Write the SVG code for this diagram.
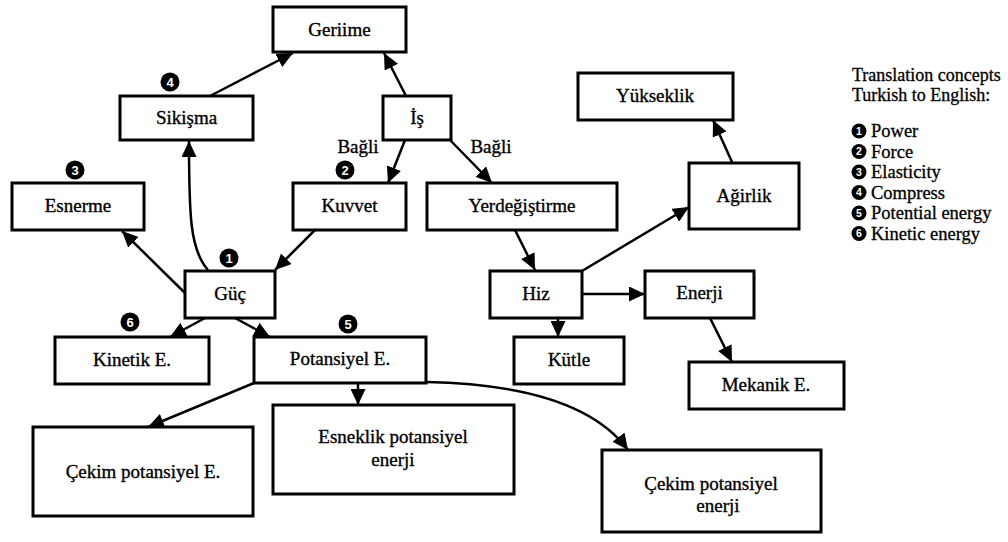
<svg xmlns="http://www.w3.org/2000/svg" width="1008" height="542" viewBox="0 0 1008 542">
<style>
.box{fill:#fff;stroke:#000;stroke-width:3}
.t{font-family:"Liberation Serif","Times New Roman",serif;font-size:19px;fill:#000;stroke:#000;stroke-width:0.35;text-anchor:middle}
.lg{font-family:"Liberation Serif","Times New Roman",serif;font-size:18px;fill:#000;stroke:#000;stroke-width:0.3}
.li{font-family:"Liberation Serif","Times New Roman",serif;font-size:18.5px;fill:#000;stroke:#000;stroke-width:0.3}
.e{fill:none;stroke:#000;stroke-width:2.5}
.nc{fill:#000}
.nt{font-family:"Liberation Sans",Arial,sans-serif;font-size:13px;font-weight:bold;fill:#fff;text-anchor:middle}
.ns{font-family:"Liberation Sans",Arial,sans-serif;font-size:10.5px;font-weight:bold;fill:#fff;text-anchor:middle}
</style>
<defs>
<marker id="ah" markerUnits="userSpaceOnUse" markerWidth="17" markerHeight="15" refX="16" refY="7.5" orient="auto">
<path d="M0,0 L16,7.5 L0,15 z" fill="#000"/>
</marker>
</defs>
<g id="connectors">
<path class="e" d="M210,96 L293,53" marker-end="url(#ah)"/>
<path class="e" d="M406,96 L384,53" marker-end="url(#ah)"/>
<path class="e" d="M405,140 L388,183" marker-end="url(#ah)"/>
<path class="e" d="M450,140 L492,183" marker-end="url(#ah)"/>
<path class="e" d="M208,270 C190,250 189,215 189,141" marker-end="url(#ah)"/>
<path class="e" d="M185,293 L122,231" marker-end="url(#ah)"/>
<path class="e" d="M315,230 L275,270" marker-end="url(#ah)"/>
<path class="e" d="M205,318 L170,337" marker-end="url(#ah)"/>
<path class="e" d="M235,318 L270,337" marker-end="url(#ah)"/>
<path class="e" d="M254,383 L148,427" marker-end="url(#ah)"/>
<path class="e" d="M358,383 L358,405" marker-end="url(#ah)"/>
<path class="e" d="M426,382 Q580,385 628,450" marker-end="url(#ah)"/>
<path class="e" d="M515,230 L535,270" marker-end="url(#ah)"/>
<path class="e" d="M558,318 L558,337" marker-end="url(#ah)"/>
<path class="e" d="M582,294 L645,294" marker-end="url(#ah)"/>
<path class="e" d="M582,271 L689,207" marker-end="url(#ah)"/>
<path class="e" d="M732,162 L713,120" marker-end="url(#ah)"/>
<path class="e" d="M710,318 L732,362" marker-end="url(#ah)"/>
</g>
<g id="labels">
<text class="t" x="358" y="153">Bağli</text>
<text class="t" x="491" y="153">Bağli</text>
</g>
<g id="n-geriime"><rect class="box" x="273" y="7" width="133" height="45"/><text class="t" x="339.5" y="36">Geriime</text></g>
<g id="n-sikisma"><rect class="box" x="120" y="96" width="133" height="44"/><text class="t" x="186.5" y="124">Sikişma</text></g>
<g id="n-is"><rect class="box" x="383" y="96" width="68" height="44"/><text class="t" x="417" y="124">İş</text></g>
<g id="n-esnerme"><rect class="box" x="12" y="183" width="132" height="47"/><text class="t" x="78" y="212">Esnerme</text></g>
<g id="n-kuvvet"><rect class="box" x="293" y="183" width="113" height="47"/><text class="t" x="349.5" y="212">Kuvvet</text></g>
<g id="n-yerdegistirme"><rect class="box" x="427" y="183" width="190" height="47"/><text class="t" x="522" y="212">Yerdeğiştirme</text></g>
<g id="n-guc"><rect class="box" x="185" y="271" width="90" height="47"/><text class="t" x="230" y="300">Güç</text></g>
<g id="n-hiz"><rect class="box" x="490" y="271" width="92" height="47"/><text class="t" x="536" y="300">Hiz</text></g>
<g id="n-enerji"><rect class="box" x="645" y="271" width="109" height="47"/><text class="t" x="699.5" y="299">Enerji</text></g>
<g id="n-kinetik"><rect class="box" x="55" y="337" width="154" height="47"/><text class="t" x="132" y="366">Kinetik E.</text></g>
<g id="n-potansiyel"><rect class="box" x="254" y="337" width="172" height="46"/><text class="t" x="340" y="365">Potansiyel E.</text></g>
<g id="n-kutle"><rect class="box" x="514" y="337" width="110" height="47"/><text class="t" x="569" y="366">Kütle</text></g>
<g id="n-mekanik"><rect class="box" x="689" y="362" width="155" height="47"/><text class="t" x="766" y="391">Mekanik E.</text></g>
<g id="n-yukseklik"><rect class="box" x="578" y="73" width="155" height="47"/><text class="t" x="655" y="102">Yükseklik</text></g>
<g id="n-agirlik"><rect class="box" x="689" y="163" width="110" height="66"/><text class="t" x="744" y="202">Ağirlik</text></g>
<g id="n-cekim1"><rect class="box" x="33" y="427" width="220" height="89"/><text class="t" x="143" y="478">Çekim potansiyel E.</text></g>
<g id="n-esneklik"><rect class="box" x="273" y="405" width="241" height="89"/><text class="t" x="393" y="443">Esneklik potansiyel</text><text class="t" x="393" y="466">enerji</text></g>
<g id="n-cekim2"><rect class="box" x="602" y="450" width="219" height="82"/><text class="t" x="711" y="490">Çekim potansiyel</text><text class="t" x="718" y="512">enerji</text></g>
<g id="badges">
<circle class="nc" cx="229" cy="258" r="9.5"/><text class="nt" x="229" y="262.5">1</text>
<circle class="nc" cx="345" cy="170" r="9.5"/><text class="nt" x="345" y="174.5">2</text>
<circle class="nc" cx="75" cy="170" r="9.5"/><text class="nt" x="75" y="174.5">3</text>
<circle class="nc" cx="170" cy="82" r="9.5"/><text class="nt" x="170" y="86.5">4</text>
<circle class="nc" cx="348" cy="324" r="9.5"/><text class="nt" x="348" y="328.5">5</text>
<circle class="nc" cx="130" cy="322" r="9.5"/><text class="nt" x="130" y="326.5">6</text>
</g>
<g id="legend">
<text class="lg" x="852" y="81">Translation concepts</text>
<text class="lg" x="852" y="101">Turkish to English:</text>
<circle class="nc" cx="859" cy="131" r="7.5"/><text class="ns" x="859" y="134.7">1</text><text class="li" x="871" y="137">Power</text>
<circle class="nc" cx="859" cy="151.5" r="7.5"/><text class="ns" x="859" y="155.2">2</text><text class="li" x="871" y="157.5">Force</text>
<circle class="nc" cx="859" cy="172" r="7.5"/><text class="ns" x="859" y="175.7">3</text><text class="li" x="871" y="178">Elasticity</text>
<circle class="nc" cx="859" cy="192.5" r="7.5"/><text class="ns" x="859" y="196.2">4</text><text class="li" x="871" y="198.5">Compress</text>
<circle class="nc" cx="859" cy="213" r="7.5"/><text class="ns" x="859" y="216.7">5</text><text class="li" x="871" y="219">Potential energy</text>
<circle class="nc" cx="859" cy="233.5" r="7.5"/><text class="ns" x="859" y="237.2">6</text><text class="li" x="871" y="239.5">Kinetic energy</text>
</g>
</svg>
